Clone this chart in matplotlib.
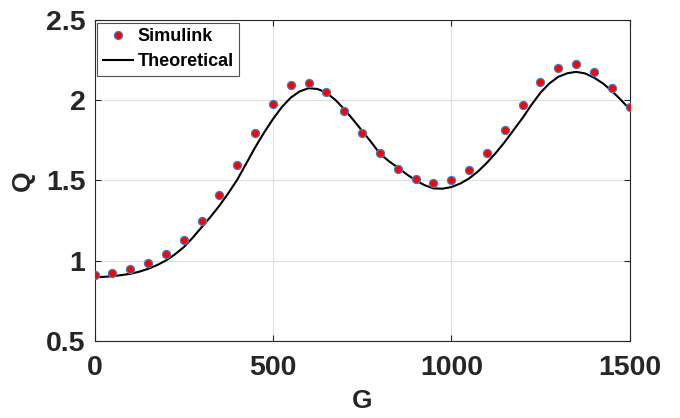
import matplotlib
matplotlib.use("Agg")
import matplotlib.pyplot as plt

# Simulink samples
sim_G = list(range(0, 1501, 50))
sim_Q = [0.911, 0.921, 0.944, 0.983, 1.042, 1.131, 1.248, 1.406, 1.596, 1.798,
         1.979, 2.096, 2.110, 2.050, 1.933, 1.798, 1.673, 1.569, 1.506, 1.483,
         1.502, 1.564, 1.673, 1.812, 1.970, 2.112, 2.204, 2.227, 2.179, 2.079,
         1.956]

# Theoretical curve (read every 25)
th_G = list(range(0, 1501, 25))
th_Q = [0.896, 0.898, 0.902, 0.909, 0.917, 0.930, 0.948, 0.971, 1.000, 1.038,
        1.083, 1.142, 1.207, 1.272, 1.342, 1.420, 1.504, 1.604, 1.705, 1.797,
        1.882, 1.957, 2.016, 2.055, 2.075, 2.070, 2.047, 2.002, 1.944, 1.878,
        1.809, 1.740, 1.666, 1.620, 1.580, 1.538, 1.500, 1.470, 1.450, 1.448,
        1.458, 1.480, 1.512, 1.556, 1.610, 1.672, 1.740, 1.815, 1.890, 1.972,
        2.047, 2.105, 2.146, 2.168, 2.177, 2.167, 2.141, 2.105, 2.058, 2.003,
        1.944]

x_ticks = [0, 500, 1000, 1500]
y_ticks = [0.5, 1, 1.5, 2, 2.5]

plt.rcParams['font.family'] = ['Liberation Sans', 'DejaVu Sans']
plt.rcParams['font.weight'] = 'bold'

fig = plt.figure(figsize=(6.8, 4.18), dpi=100)
ax = fig.add_axes([0.139, 0.185, 0.787, 0.767])

ax.plot(sim_G, sim_Q, linestyle='none', marker='o', markersize=5.8,
        markerfacecolor='#FF0000', markeredgecolor='#3A7FC8', markeredgewidth=0.9,
        label='Simulink', zorder=3)
ax.plot(th_G, th_Q, color='black', linewidth=1.5, label='Theoretical', zorder=2)

ax.set_xlim(0, 1500)
ax.set_ylim(0.5, 2.5)
ax.set_xticks(x_ticks)
ax.set_yticks(y_ticks)
ax.set_xticklabels([str(v) for v in x_ticks])
ax.set_yticklabels(['0.5', '1', '1.5', '2', '2.5'])
ax.tick_params(direction='in', top=True, right=True, labelsize=20.5, length=4,
               width=0.8, colors='#262626')
ax.tick_params(axis='x', pad=10)
ax.tick_params(axis='y', pad=6.5)
for lab in ax.get_xticklabels() + ax.get_yticklabels():
    lab.set_fontweight('bold')
    lab.set_color('#262626')
ax.grid(True, color='#DFDFDF', linewidth=0.8)
ax.set_axisbelow(True)
for sp in ax.spines.values():
    sp.set_color('#262626')
    sp.set_linewidth(0.8)

ax.set_xlabel('G', fontsize=19, fontweight='bold', color='#262626', labelpad=6)
ax.set_ylabel('Q', fontsize=19, fontweight='bold', color='#262626', labelpad=8)

leg = ax.legend(loc='upper left', fontsize=13, frameon=True, fancybox=False,
                edgecolor='#262626', borderaxespad=0.15, handlelength=1.7,
                handletextpad=0.25, borderpad=0.3, labelspacing=0.45)
leg.get_frame().set_linewidth(0.8)
for t in leg.get_texts():
    t.set_fontweight('bold')

fig.savefig('out.png', dpi=100)
